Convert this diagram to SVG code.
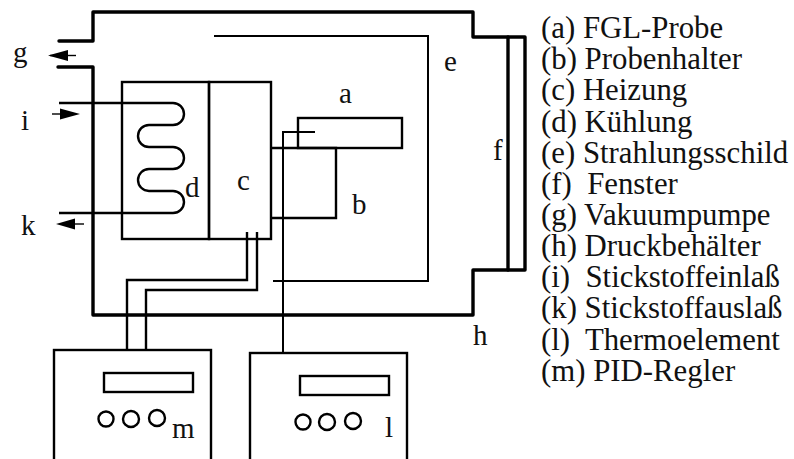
<svg xmlns="http://www.w3.org/2000/svg" width="794" height="459" viewBox="0 0 794 459">
<style>
.l{fill:none;stroke:#000;stroke-width:2}
.m{fill:none;stroke:#000;stroke-width:2.4}
.h{fill:none;stroke:#000;stroke-width:3.4;stroke-linejoin:round;stroke-linecap:round}
.t{fill:none;stroke:#000;stroke-width:1.4}
.a{fill:#000}
text{font-family:"Liberation Serif","Times New Roman",serif;fill:#111}
.k{font-size:29px}
.s{font-size:30.8px}
</style>
<rect width="794" height="459" fill="#fff"/>
<g id="vessel-h">
<path class="h" d="M59 41H93V12H473V37H525V270H473V315H93V67H58"/>
<path class="h" d="M508 37V270"/>
<text class="k" x="473" y="345">h</text>
</g>
<g id="shield-e">
<path class="l" d="M214 36H428V281H273"/>
<text class="k" x="444" y="71">e</text>
</g>
<g id="window-f"><text class="k" x="493" y="160">f</text></g>
<g id="cooler-d">
<rect class="m" x="122" y="82" width="87" height="157"/>
<path class="m" d="M59 103H173A11 11 0 0 1 173 125H149A11 11 0 0 0 149 147H173A11 11 0 0 1 173 169H149A11 11 0 0 0 149 191H173A11 11 0 0 1 173 213H59"/>
<text class="k" x="185" y="197">d</text>
</g>
<g id="heater-c">
<rect class="m" x="209" y="82" width="62" height="157"/>
<text class="k" x="237" y="190">c</text>
</g>
<g id="sample-a">
<rect class="m" x="298" y="118" width="104" height="30"/>
<text class="k" x="339" y="103">a</text>
</g>
<g id="holder-b">
<path class="m" d="M271 148H336V218H271"/>
<text class="k" x="352" y="214">b</text>
</g>
<g id="controller-m">
<rect class="m" x="54" y="350" width="157" height="120"/>
<rect class="m" x="104" y="373" width="89" height="19"/>
<circle class="m" cx="106" cy="419" r="7.500"/><circle class="m" cx="131" cy="419" r="8"/><circle class="m" cx="157" cy="418" r="8"/>
<text class="k" x="172" y="438">m</text>
</g>
<g id="thermo-l">
<rect class="m" x="250" y="353" width="157" height="120"/>
<rect class="m" x="300" y="376" width="89" height="19"/>
<circle class="m" cx="303" cy="422" r="7.500"/><circle class="m" cx="327" cy="422" r="8"/><circle class="m" cx="353" cy="421" r="8"/>
<text class="k" x="385" y="437">l</text>
</g>
<g id="connectors">
<path class="m" d="M247 232V280H127V350"/>
<path class="m" d="M257 232V290H146V350"/>
<path class="l" d="M283 353V132H315"/>
</g>
<g id="arrows">
<path class="t" d="M50 55.500H76"/><path class="a" d="M48 55.500L68 50V61Z"/>
<path class="t" d="M52 114H72"/><path class="a" d="M80 114L60 108.500V119.500Z"/>
<path class="t" d="M60 224H84"/><path class="a" d="M56 224L75 218.500V229.500Z"/>
</g>
<g id="labels">
<text class="k" x="13" y="62">g</text>
<text class="k" x="21" y="130">i</text>
<text class="k" x="21" y="235">k</text>
<text class="s" x="541" y="38">(a) FGL-Probe</text>
<text class="s" x="541" y="69">(b) Probenhalter</text>
<text class="s" x="541" y="100">(c) Heizung</text>
<text class="s" x="541" y="132">(d) Kühlung</text>
<text class="s" x="541" y="163">(e) Strahlungsschild</text>
<text class="s" x="541" y="194" xml:space="preserve">(f)  Fenster</text>
<text class="s" x="541" y="225">(g) Vakuumpumpe</text>
<text class="s" x="541" y="256">(h) Druckbehälter</text>
<text class="s" x="541" y="287" xml:space="preserve">(i)  Stickstoffeinlaß</text>
<text class="s" x="541" y="318">(k) Stickstoffauslaß</text>
<text class="s" x="541" y="350" xml:space="preserve">(l)  Thermoelement</text>
<text class="s" x="541" y="381">(m) PID-Regler</text>
</g>
</svg>
